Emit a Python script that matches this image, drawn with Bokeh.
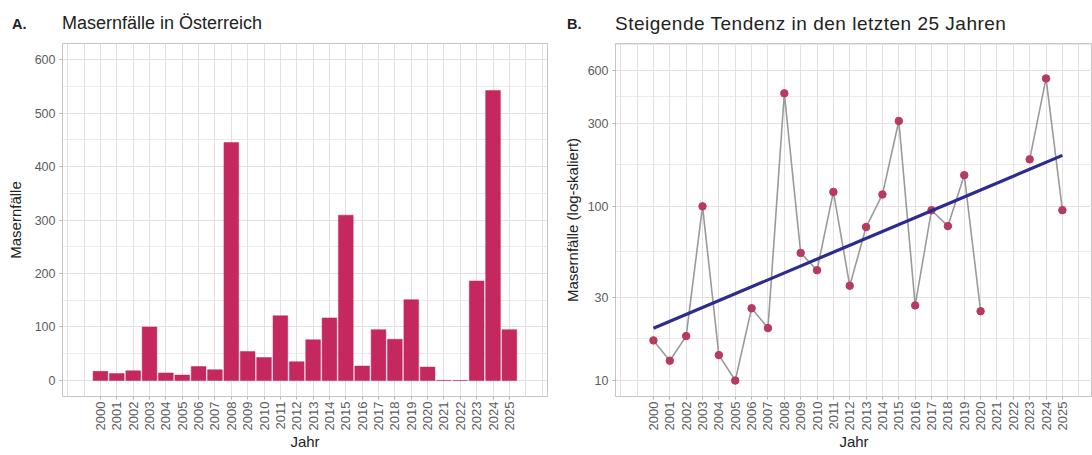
import numpy as np
from bokeh.plotting import figure
from bokeh.layouts import row, column
from bokeh.models import FixedTicker, Range1d, BasicTickFormatter, Div
from bokeh.embed import file_html
from bokeh.resources import INLINE

years = list(range(2000, 2026))
cases = [17, 13, 18, 100, 14, 10, 26, 20, 445, 54, 43, 121, 35, 76, 117, 309,
         27, 95, 77, 151, 25, 0, 0, 186, 542, 95]
left_tag, left_title = "A.", "Masernfälle in Österreich"
right_tag, right_title = "B.", "Steigende Tendenz in den letzten 25 Jahren"
left_ylabel = "Masernfälle"
right_ylabel = "Masernfälle (log-skaliert)"
xlabel = "Jahr"
lin_ticks = [0, 100, 200, 300, 400, 500, 600]
log_ticks = [10, 30, 100, 300, 600]

FONT = "Liberation Sans"
BAR = "#C4285E"
PT = "#B83A5E"
GRID = "#e6dfe2"
BORDER = "#c4c4c4"
TICKTXT = "#5c5c5c"
TXT = "#222222"

W1, W2 = 556, 536
HT = 36      # title strip
HP = 417     # plot height


def style(p):
    p.outline_line_color = BORDER
    p.outline_line_width = 1
    for ax in p.axis:
        ax.axis_line_color = None
        ax.major_tick_line_color = "#b3b3b3"
        ax.major_tick_out = 3
        ax.major_tick_in = 0
        ax.minor_tick_line_color = None
        ax.major_label_text_font = FONT
        ax.major_label_text_font_size = "12.5px"
        ax.major_label_text_color = TICKTXT
        ax.axis_label_text_font = FONT
        ax.axis_label_text_font_size = "15px"
        ax.axis_label_text_font_style = "normal"
        ax.axis_label_text_color = TXT
        ax.major_label_standoff = 3
    p.xaxis.ticker = FixedTicker(ticks=years)
    p.xaxis.major_label_orientation = np.pi / 2
    p.xaxis.major_label_text_font_size = "13px"
    p.xaxis.major_label_standoff = 2
    p.xaxis.axis_label = xlabel
    p.xaxis.axis_label_standoff = 0
    p.xgrid.ticker = FixedTicker(ticks=list(range(1990, 2035)))
    p.xgrid.grid_line_color = GRID
    p.xgrid.grid_line_width = 1
    p.ygrid.grid_line_color = GRID
    p.ygrid.grid_line_width = 1
    p.ygrid.minor_grid_line_color = GRID
    p.ygrid.minor_grid_line_width = 0.7


def title_div(width, tag, text, tag_x, text_x, size, spacing):
    html = (
        f'<div style="position:relative;width:{width}px;height:{HT}px;'
        f'font-family:\'{FONT}\';color:{TXT};">'
        f'<span style="position:absolute;left:{tag_x}px;top:17px;font-size:14.5px;'
        f'line-height:1;font-weight:bold;">{tag}</span>'
        f'<span style="position:absolute;left:{text_x}px;top:14px;font-size:{size}px;'
        f'letter-spacing:{spacing}px;line-height:1;white-space:nowrap;">{text}</span></div>'
    )
    return Div(text=html, width=width, height=HT, margin=0)


# ---- Panel A
p1 = figure(width=W1, height=HP, x_range=Range1d(1997.68, 2027.33),
            y_range=Range1d(-30, 630), output_backend="svg", toolbar_location=None,
            min_border_left=62, min_border_right=9, min_border_top=7, min_border_bottom=56)
p1.vbar(x=years, top=cases, width=0.9, fill_color=BAR, line_color=BAR, line_width=0.5)
style(p1)
p1.yaxis.ticker = FixedTicker(ticks=lin_ticks, minor_ticks=[50, 150, 250, 350, 450, 550])
p1.yaxis.axis_label = left_ylabel
p1.yaxis.axis_label_standoff = 8

# ---- Panel B
yrs = np.array(years, dtype=float)
vals = np.array(cases, dtype=float)
mask = vals > 0
logvals = np.where(mask, vals, np.nan)
slope, icpt = np.polyfit(yrs[mask], np.log10(vals[mask]), 1)
tx = [yrs[mask].min(), yrs[mask].max()]
ty = [10 ** (icpt + slope * t) for t in tx]

p2 = figure(width=W2, height=HP, x_range=Range1d(1997.68, 2026.84),
            y_range=Range1d(8.1, 860), y_axis_type="log", output_backend="svg",
            toolbar_location=None, min_border_left=59, min_border_right=0,
            min_border_top=7, min_border_bottom=56)
p2.line(x=yrs, y=logvals, line_color="#9a9a9a", line_width=1.6)
p2.scatter(x=yrs[mask], y=vals[mask], size=7.5, fill_color=PT, line_color=PT)
p2.line(x=tx, y=ty, line_color="#2c2c90", line_width=3.2)
style(p2)
minor_log = [float(np.sqrt(a * b)) for a, b in zip(log_ticks[:-1], log_ticks[1:])] + [849.0]
p2.yaxis.ticker = FixedTicker(ticks=log_ticks, minor_ticks=minor_log)
p2.yaxis.formatter = BasicTickFormatter()
p2.yaxis.axis_label = right_ylabel
p2.yaxis.axis_label_standoff = 4

d1 = title_div(W1, left_tag, left_title, 12, 62, 18, 0)
d2 = title_div(W2, right_tag, right_title, 11, 59, 19, 0.5)

layout = column(row(d1, d2, spacing=0), row(p1, p2, spacing=0), spacing=0)
open("out.html", "w").write(file_html(layout, INLINE))
